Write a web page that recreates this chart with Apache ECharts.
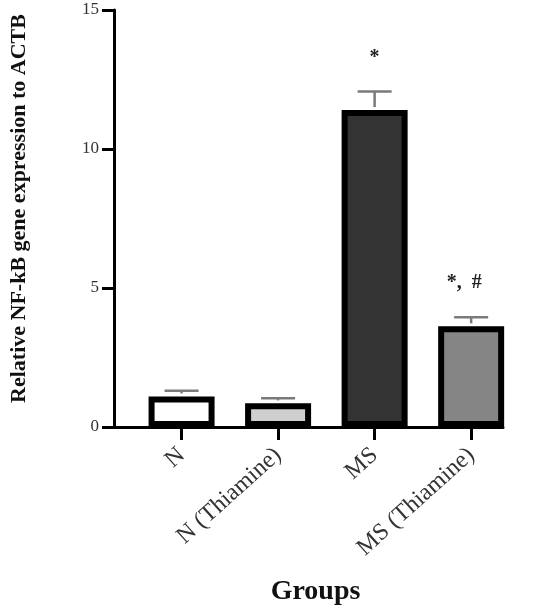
<!DOCTYPE html>
<html>
<head>
<meta charset="utf-8">
<script src="https://cdn.jsdelivr.net/npm/echarts@6/dist/echarts.min.js"></script>
<style>
  html, body { margin: 0; padding: 0; background: #fff; }
  #chart { width: 538px; height: 613px; }
</style>
</head>
<body>
<div id="chart"></div>
<script>
const groups = ["N", "N (Thiamine)", "MS", "MS (Thiamine)"];
const means = [1.1, 0.85, 11.4, 3.62];
const errors = [0.2, 0.18, 0.67, 0.33];
const marks = ["", "", "*", "*,  #"];
const fills = ["#ffffff", "#cfcfcf", "#333333", "#858585"];
const yTicks = [0, 5, 10, 15];

const serif = '"Liberation Serif", "DejaVu Serif", serif';

let myChart = echarts.init(document.getElementById("chart"));

myChart.setOption({
  animation: false,
  grid: {
    top: 10,
    left: 112,
    right: 35,
    bottom: 186
  },
  xAxis: {
    type: "value",
    min: -0.7,
    max: 3.33,
    name: "Groups",
    nameLocation: "middle",
    nameGap: 151,
    nameTextStyle: {
      fontFamily: serif,
      fontWeight: "bold",
      fontSize: 28,
      color: "#111",
      padding: [0, 0, 0, 14]
    },
    splitLine: { show: false },
    axisLine: {
      onZero: false,
      lineStyle: { color: "#000", width: 3 }
    },
    axisTick: {
      customValues: [0, 1, 2, 3],
      length: 13,
      lineStyle: { color: "#000", width: 3 }
    },
    axisLabel: {
      customValues: [0, 1, 2, 3],
      formatter: (v) => groups[v],
      rotate: 42,
      margin: 25,
      fontFamily: serif,
      fontSize: 24,
      color: "#333"
    }
  },
  yAxis: {
    type: "value",
    min: 0,
    max: yTicks[yTicks.length - 1],
    interval: 5,
    name: "Relative NF-kB gene expression to ACTB",
    nameLocation: "middle",
    nameGap: 84,
    nameTextStyle: {
      fontFamily: serif,
      fontWeight: "bold",
      fontSize: 22,
      color: "#111",
      padding: [0, 0, 0, 20]
    },
    splitLine: { show: false },
    axisLine: {
      show: true,
      onZero: false,
      lineStyle: { color: "#000", width: 3 }
    },
    axisTick: {
      length: 12,
      lineStyle: { color: "#000", width: 3 }
    },
    axisLabel: {
      margin: 15,
      fontFamily: serif,
      fontSize: 17,
      color: "#333"
    }
  },
  series: [
    {
      type: "bar",
      barWidth: 66,
      data: means.map((v, i) => ({
        value: [i, v],
        itemStyle: { color: fills[i], borderColor: "#000", borderWidth: 6 }
      }))
    },
    {
      type: "custom",
      z: 3,
      data: means.map((v, i) => [i, v, errors[i], i]),
      renderItem: (params, api) => {
        let x = api.value(0);
        let v = api.value(1);
        let e = api.value(2);
        let idx = api.value(3);
        let base = api.coord([x, v]);
        let top = api.coord([x, v + e]);
        let half = 17;
        let style = { stroke: "#7a7a7a", lineWidth: 2.5 };
        let children = [
          { type: "line", shape: { x1: top[0], y1: base[1] - 3, x2: top[0], y2: top[1] }, style: style },
          { type: "line", shape: { x1: top[0] - half, y1: top[1], x2: top[0] + half, y2: top[1] }, style: style }
        ];
        if (marks[idx]) {
          children.push({
            type: "text",
            style: {
              text: marks[idx],
              x: marks[idx].length > 1 ? top[0] - 7 : top[0],
              y: top[1] - 34,
              align: "center",
              verticalAlign: "middle",
              font: "bold 20px " + serif,
              fill: "#222"
            }
          });
        }
        return { type: "group", children: children };
      }
    }
  ]
});
</script>
</body>
</html>
